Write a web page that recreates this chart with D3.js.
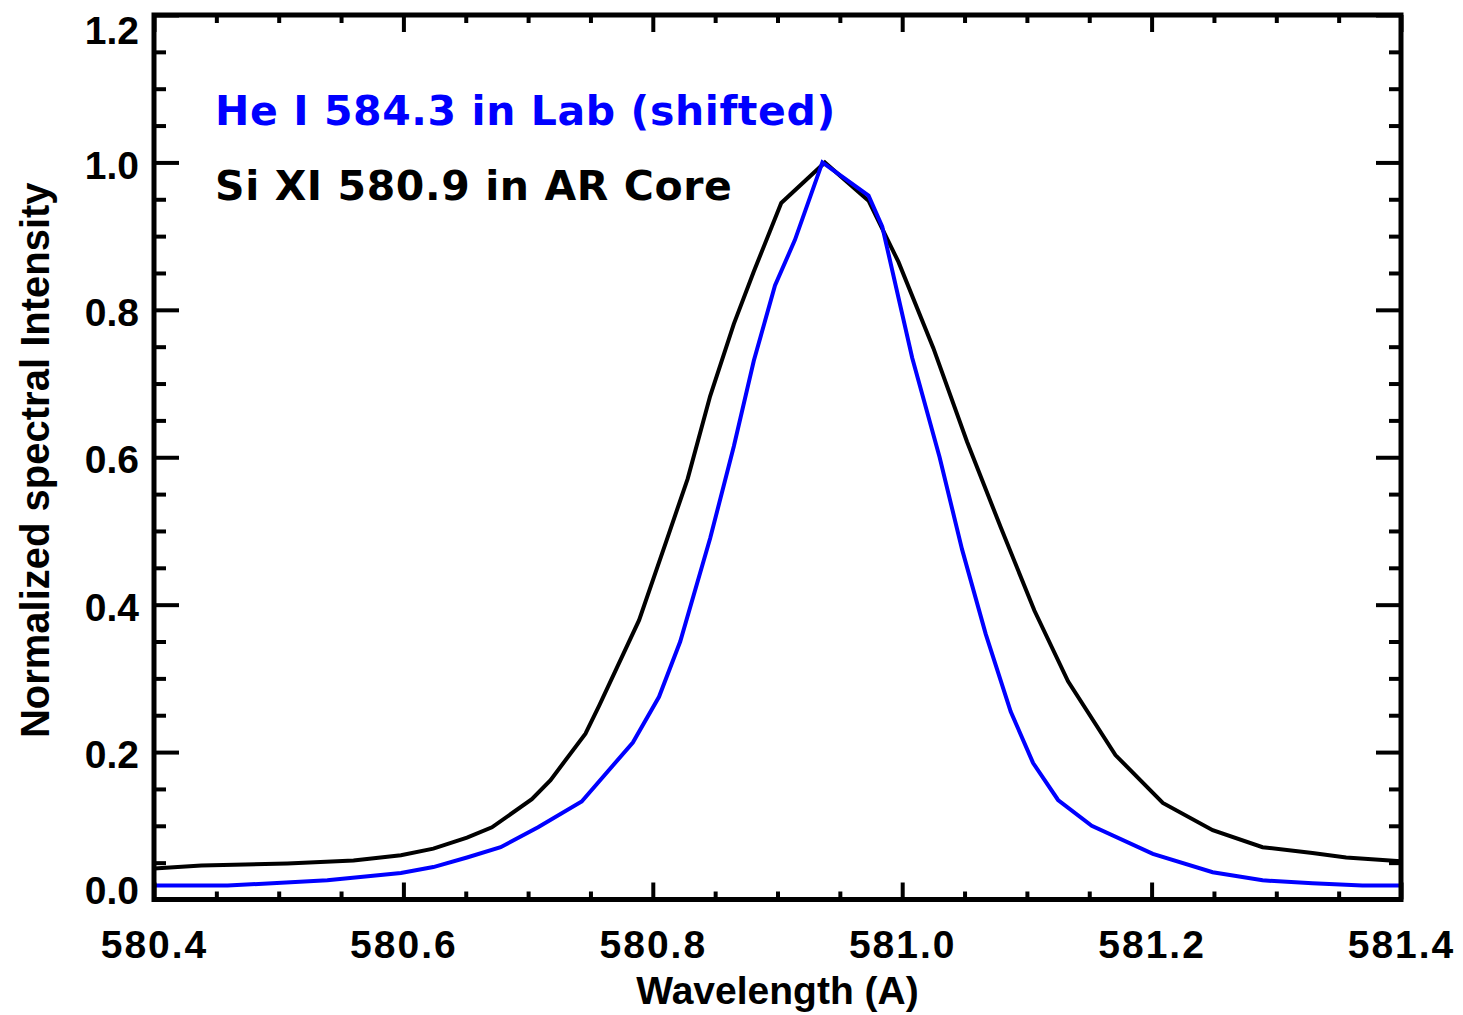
<!DOCTYPE html>
<html>
<head>
<meta charset="utf-8">
<script src="https://cdn.jsdelivr.net/npm/d3@7"></script>
<style>
  html, body { margin: 0; padding: 0; background: #ffffff; }
  svg { display: block; }
</style>
</head>
<body>
<svg id="chart" width="1463" height="1015"></svg>
<script>
// ---- data ----
const siWave = [580.400, 580.438, 580.507, 580.560, 580.598, 580.624, 580.651, 580.671, 580.703, 580.718,
  580.746, 580.757, 580.789, 580.811, 580.828, 580.846, 580.865, 580.881, 580.903, 580.938,
  580.973, 580.997, 581.025, 581.052, 581.079, 581.106, 581.133, 581.171, 581.209, 581.249,
  581.289, 581.329, 581.356, 581.400];
const siInt = [0.042, 0.046, 0.049, 0.053, 0.060, 0.069, 0.084, 0.098, 0.136, 0.162,
  0.225, 0.263, 0.379, 0.487, 0.571, 0.683, 0.781, 0.852, 0.945, 1.000,
  0.948, 0.865, 0.748, 0.621, 0.505, 0.392, 0.296, 0.196, 0.131, 0.094,
  0.071, 0.063, 0.057, 0.052];

const heWave = [580.400, 580.459, 580.539, 580.598, 580.624, 580.651, 580.678, 580.708, 580.743, 580.784,
  580.805, 580.822, 580.846, 580.865, 580.881, 580.898, 580.914, 580.936, 580.973, 580.984,
  581.008, 581.030, 581.048, 581.067, 581.087, 581.105, 581.125, 581.152, 581.201, 581.249,
  581.289, 581.329, 581.369, 581.400];
const heInt = [0.019, 0.019, 0.026, 0.036, 0.044, 0.057, 0.071, 0.098, 0.133, 0.213,
  0.275, 0.350, 0.490, 0.615, 0.731, 0.833, 0.895, 1.000, 0.955, 0.913,
  0.735, 0.600, 0.475, 0.360, 0.255, 0.185, 0.135, 0.100, 0.062, 0.037,
  0.026, 0.022, 0.019, 0.019];

const xMajorTicks = [580.4, 580.6, 580.8, 581.0, 581.2, 581.4];
const xMinorTicks = [580.45, 580.5, 580.55, 580.65, 580.7, 580.75, 580.85, 580.9, 580.95,
  581.05, 581.1, 581.15, 581.25, 581.3, 581.35];
const yMajorTicks = [0.0, 0.2, 0.4, 0.6, 0.8, 1.0, 1.2];
const yMinorTicks = [0.05, 0.1, 0.15, 0.25, 0.3, 0.35, 0.45, 0.5, 0.55, 0.65, 0.7, 0.75,
  0.85, 0.9, 0.95, 1.05, 1.1, 1.15];

const legendLabels = ["He I 584.3 in Lab (shifted)", "Si XI 580.9 in AR Core"];
const seriesColors = ["#0000ff", "#000000"];
const xTitle = "Wavelength (A)";
const yTitle = "Normalized spectral Intensity";

// ---- layout ----
const L = 154, R = 1401, T = 15, B = 899.5;
const svg = d3.select("#chart");

const x = d3.scaleLinear().domain([580.4, 581.4]).range([L, R]);
const y = d3.scaleLinear().domain([0, 1.2]).range([B, T]);

const tickFont = "'Liberation Sans', Arial, Helvetica, sans-serif";

svg.append("defs").append("clipPath").attr("id", "plotclip")
  .append("rect").attr("x", L).attr("y", T).attr("width", R - L).attr("height", B - T);

// ---- curves ----
const line = d3.line().x(d => x(d[0])).y(d => y(d[1]));
const siData = siWave.map((w, i) => [w, siInt[i]]);
const heData = heWave.map((w, i) => [w, heInt[i]]);

const curves = svg.append("g").attr("clip-path", "url(#plotclip)");
curves.append("path").datum(siData)
  .attr("d", line).attr("fill", "none").attr("stroke", seriesColors[1])
  .attr("stroke-width", 4).attr("stroke-linejoin", "miter");
curves.append("path").datum(heData)
  .attr("d", line).attr("fill", "none").attr("stroke", seriesColors[0])
  .attr("stroke-width", 4).attr("stroke-linejoin", "miter");

// ---- axes ----
function styleAxis(g) {
  g.select(".domain").remove();
  g.selectAll(".tick line").attr("stroke", "#000").attr("stroke-width", 4);
}

// bottom
const gBottom = svg.append("g").attr("transform", `translate(0,${B})`)
  .call(d3.axisBottom(x).tickValues(xMajorTicks).tickSize(-17).tickPadding(31)
    .tickFormat(d3.format(".1f")));
styleAxis(gBottom);
gBottom.selectAll("text").attr("font-family", tickFont).attr("font-weight", "bold")
  .attr("font-size", 39).attr("fill", "#000").attr("letter-spacing", "2px");
svg.append("g").attr("transform", `translate(0,${B})`)
  .call(d3.axisBottom(x).tickValues(xMinorTicks).tickSize(-8).tickFormat(""))
  .call(styleAxis);

// top
svg.append("g").attr("transform", `translate(0,${T})`)
  .call(d3.axisTop(x).tickValues(xMajorTicks).tickSize(-17).tickFormat(""))
  .call(styleAxis);
svg.append("g").attr("transform", `translate(0,${T})`)
  .call(d3.axisTop(x).tickValues(xMinorTicks).tickSize(-8).tickFormat(""))
  .call(styleAxis);

// left
const gLeft = svg.append("g").attr("transform", `translate(${L},0)`)
  .call(d3.axisLeft(y).tickValues(yMajorTicks).tickSize(-25).tickPadding(15)
    .tickFormat(d3.format(".1f")));
styleAxis(gLeft);
gLeft.selectAll("text").attr("font-family", tickFont).attr("font-weight", "bold")
  .attr("font-size", 39).attr("fill", "#000")
  .attr("dy", (d, i, n) => i === 0 ? "0.1em" : (i === n.length - 1 ? "0.72em" : "0.4em"));
svg.append("g").attr("transform", `translate(${L},0)`)
  .call(d3.axisLeft(y).tickValues(yMinorTicks).tickSize(-12).tickFormat(""))
  .call(styleAxis);

// right
svg.append("g").attr("transform", `translate(${R},0)`)
  .call(d3.axisRight(y).tickValues(yMajorTicks).tickSize(-25).tickFormat(""))
  .call(styleAxis);
svg.append("g").attr("transform", `translate(${R},0)`)
  .call(d3.axisRight(y).tickValues(yMinorTicks).tickSize(-12).tickFormat(""))
  .call(styleAxis);

// frame
svg.append("rect").attr("x", L).attr("y", T).attr("width", R - L).attr("height", B - T)
  .attr("fill", "none").attr("stroke", "#000").attr("stroke-width", 5);

// ---- titles ----
svg.append("text").attr("x", (L + R) / 2).attr("y", 1004)
  .attr("text-anchor", "middle").attr("font-family", tickFont).attr("font-weight", "bold")
  .attr("font-size", 39).attr("fill", "#000").text(xTitle);

svg.append("text").attr("transform", `translate(49,${(T + B) / 2 + 3}) rotate(-90)`)
  .attr("text-anchor", "middle").attr("font-family", tickFont).attr("font-weight", "bold")
  .attr("font-size", 40).attr("fill", "#000").text(yTitle);

// ---- legend ----
const legendFont = "'DejaVu Sans', Verdana, sans-serif";
svg.append("g").selectAll("text").data(legendLabels).join("text")
  .attr("x", 215).attr("y", (d, i) => 125 + i * 75)
  .attr("font-family", legendFont).attr("font-weight", "bold").attr("font-size", 41)
  .attr("letter-spacing", "0.6px")
  .attr("fill", (d, i) => seriesColors[i]).text(d => d);
</script>
</body>
</html>
